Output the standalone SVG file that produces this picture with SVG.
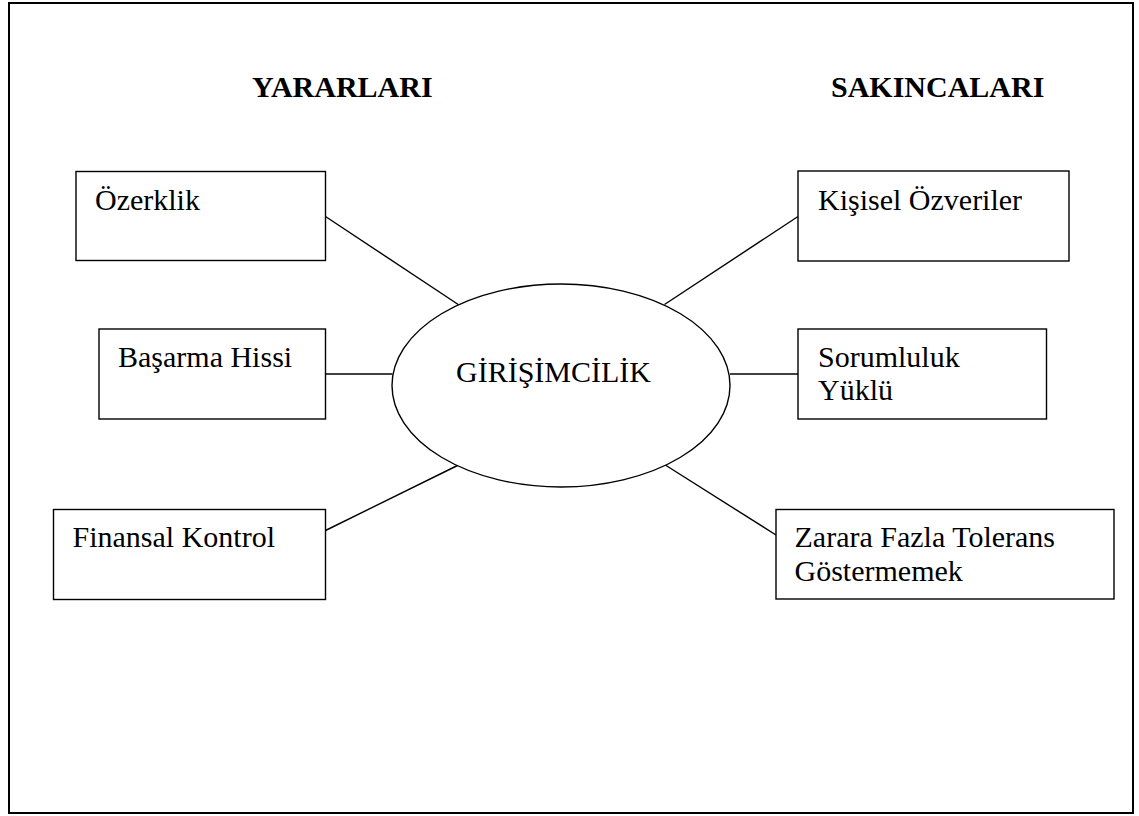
<svg xmlns="http://www.w3.org/2000/svg" width="1139" height="816" viewBox="0 0 1139 816">
<style>
.box{fill:#fff;stroke:#000;stroke-width:1.4}
.t{font-family:"Liberation Serif","Times New Roman",serif;font-size:30px;fill:#000}
.h{font-family:"Liberation Serif","Times New Roman",serif;font-size:30px;font-weight:bold;fill:#000}
.c{stroke:#000;stroke-width:1.4;fill:none}
</style>
<rect x="9" y="3" width="1124" height="810" fill="#fff" stroke="#000" stroke-width="2"/>
<text class="h" x="252" y="97">YARARLARI</text>
<text class="h" x="831" y="97">SAKINCALARI</text>
<g id="connectors">
<line class="c" x1="325.5" y1="216.5" x2="459" y2="305"/>
<line class="c" x1="325.5" y1="374" x2="392.5" y2="374"/>
<line class="c" x1="325.5" y1="530.5" x2="458.5" y2="465"/>
<line class="c" x1="664.5" y1="304.5" x2="798" y2="216.5"/>
<line class="c" x1="730" y1="374" x2="798" y2="374"/>
<line class="c" x1="664.5" y1="464.5" x2="776" y2="535"/>
</g>
<g id="center">
<ellipse class="box" cx="561" cy="385.5" rx="169" ry="101.5"/>
<text class="t" x="456" y="382">GİRİŞİMCİLİK</text>
</g>
<g id="ozerklik">
<rect class="box" x="76" y="171.5" width="249.5" height="89"/>
<text class="t" x="95" y="209.5">Özerklik</text>
</g>
<g id="basarma">
<rect class="box" x="99" y="329" width="226.5" height="90"/>
<text class="t" x="118" y="366.5">Başarma Hissi</text>
</g>
<g id="finansal">
<rect class="box" x="53.5" y="509.5" width="272" height="90"/>
<text class="t" x="72.5" y="546.5">Finansal Kontrol</text>
</g>
<g id="kisisel">
<rect class="box" x="798" y="171" width="271" height="90"/>
<text class="t" x="818" y="209.5">Kişisel Özveriler</text>
</g>
<g id="sorumluluk">
<rect class="box" x="798" y="329" width="248.5" height="90"/>
<text class="t" x="818" y="366.5">Sorumluluk</text>
<text class="t" x="818" y="399.5">Yüklü</text>
</g>
<g id="zarara">
<rect class="box" x="776" y="509.5" width="338" height="89.5"/>
<text class="t" x="794.5" y="546.5">Zarara Fazla Tolerans</text>
<text class="t" x="794.5" y="581">Göstermemek</text>
</g>
</svg>
